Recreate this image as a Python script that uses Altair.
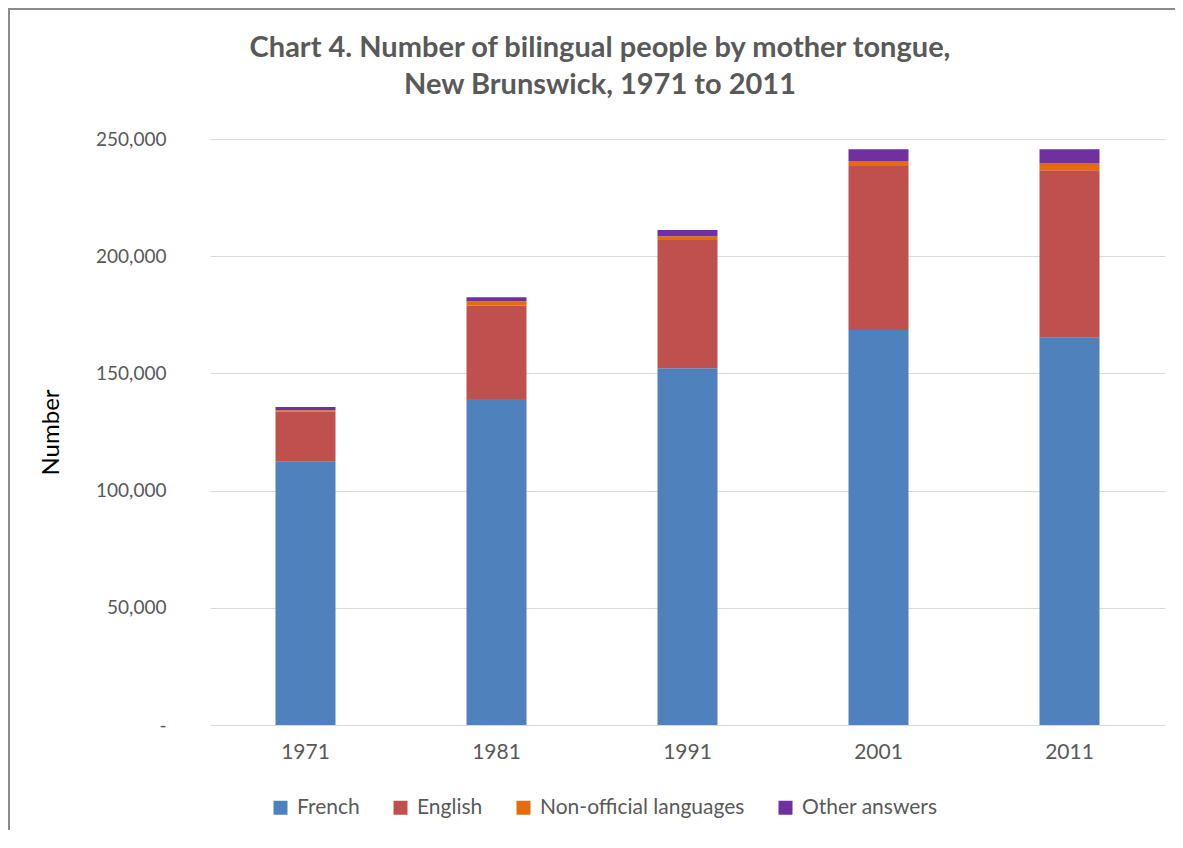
import altair as alt
import pandas as pd

years = ["1971", "1981", "1991", "2001", "2011"]
categories = ["French", "English", "Non-official languages", "Other answers"]
french = [112300, 139100, 152200, 168500, 165200]
english = [21300, 39800, 54700, 70000, 71500]
non_official = [700, 1900, 1600, 2100, 2900]
other = [1400, 1700, 2700, 5000, 6000]
colors = ["#4F81BD", "#C0504D", "#E46C0A", "#7030A0"]
title_lines = ["Chart 4. Number of bilingual people by mother tongue,",
               "New Brunswick, 1971 to 2011"]

series = [french, english, non_official, other]
rows = []
for ci, (cat, vals) in enumerate(zip(categories, series)):
    for y, v in zip(years, vals):
        rows.append({"Year": y, "Tongue": cat, "Value": v, "Order": ci})
df = pd.DataFrame(rows)

W, H = 955, 586
PL, PT, PR, PB = 202, 131, 10, 105
FONT = "Lato"
GRAY = "#595959"
FS = 21

bars = alt.Chart(df).mark_bar(size=60).encode(
    x=alt.X("Year:N", sort=years, title=None,
            axis=alt.Axis(labelAngle=0, labelFontSize=FS, labelColor=GRAY,
                          labelFont=FONT, ticks=False, domainColor="#d9d9d9",
                          labelPadding=16)),
    y=alt.Y("Value:Q", title="Number", stack="zero",
            scale=alt.Scale(domain=[0, 250000], nice=False),
            axis=alt.Axis(values=[0, 50000, 100000, 150000, 200000, 250000],
                          labelExpr="datum.value == 0 ? '-' : format(datum.value, ',')",
                          labelFontSize=19, labelColor=GRAY, labelFont=FONT,
                          ticks=False, domain=False, gridColor="#d9d9d9",
                          labelPadding=44, titleFontSize=24, titleFont=FONT,
                          titleFontWeight="normal", titleColor="#000000",
                          titlePadding=32)),
    color=alt.Color("Tongue:N", sort=categories,
                    scale=alt.Scale(domain=categories, range=colors),
                    legend=alt.Legend(orient="none", direction="horizontal",
                                      legendX=60, legendY=658, title=None,
                                      symbolType="square", symbolSize=196,
                                      symbolStrokeWidth=0, labelFontSize=FS,
                                      labelColor=GRAY, labelFont=FONT,
                                      labelLimit=400,
                                      columnPadding=30, labelOffset=6)),
    order=alt.Order("Order:Q", sort="ascending"),
)

tdf = pd.DataFrame({"t": title_lines})
title1 = alt.Chart(tdf.iloc[[0]]).mark_text(
    font=FONT, fontSize=29, fontWeight="bold", color=GRAY, align="center",
    baseline="middle").encode(text="t:N", x=alt.value(390), y=alt.value(-91))
title2 = alt.Chart(tdf.iloc[[1]]).mark_text(
    font=FONT, fontSize=29, fontWeight="bold", color=GRAY, align="center",
    baseline="middle").encode(text="t:N", x=alt.value(390), y=alt.value(-54))

fdf = pd.DataFrame({"a": [0]})
frame_left = alt.Chart(fdf).mark_rect(color="#8c8c8c").encode(
    x=alt.value(-PL), x2=alt.value(-PL + 2),
    y=alt.value(-PT), y2=alt.value(H + PB + 20)
)
frame_top = alt.Chart(fdf).mark_rect(color="#8c8c8c").encode(
    x=alt.value(-PL), x2=alt.value(W + PR + 20),
    y=alt.value(-PT), y2=alt.value(-PT + 2)
)

chart = alt.layer(bars, title1, title2, frame_left, frame_top).properties(
    width=W, height=H,
    autosize=alt.AutoSizeParams(type="none"),
    padding={"left": PL, "top": PT, "right": PR, "bottom": PB},
).configure(background="white").configure_view(strokeOpacity=0)

chart.save("out.html", embed_options={"renderer": "svg", "actions": False})
